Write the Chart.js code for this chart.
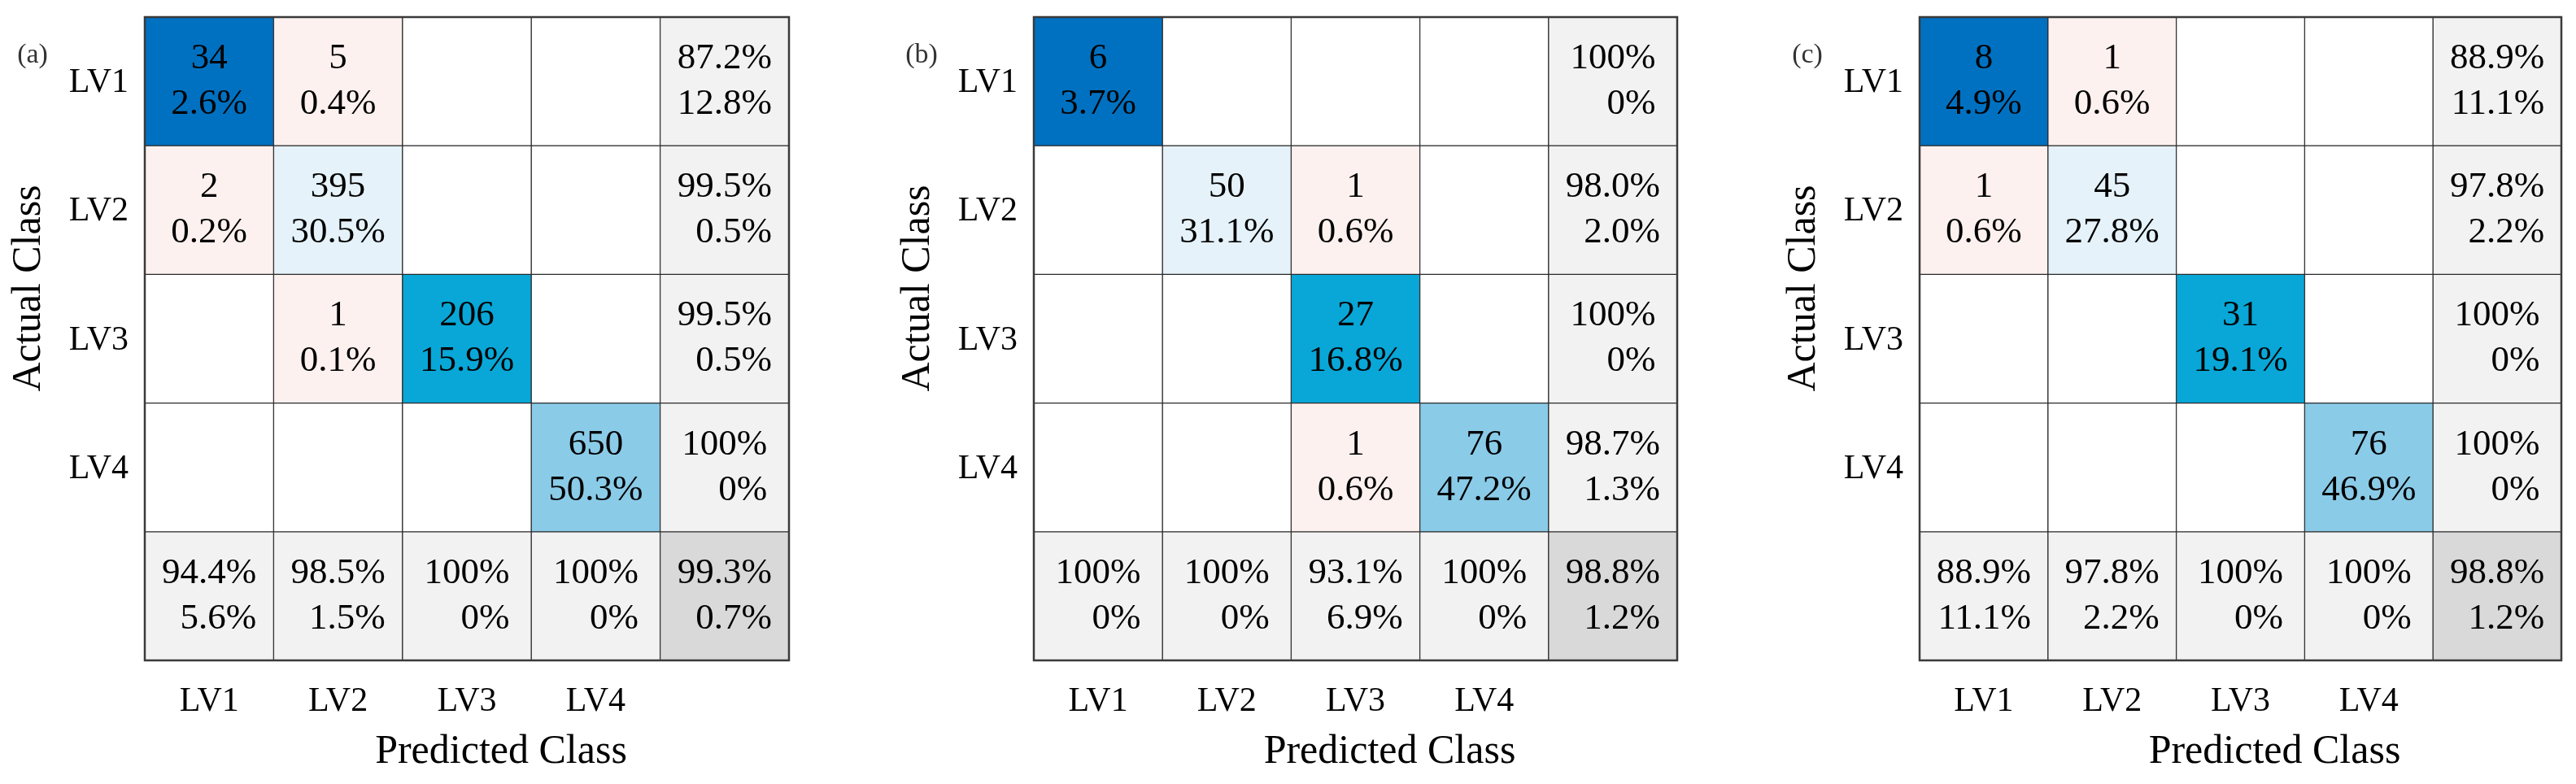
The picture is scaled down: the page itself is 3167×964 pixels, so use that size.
<!DOCTYPE html>
<html>
<head>
<meta charset="utf-8">
<script src="https://cdn.jsdelivr.net/npm/chart.js@4"></script>
<style>
  body { margin: 0; background: #fff; }
  #wrap { position: relative; width: 3167px; height: 964px; }
  #wrap canvas { position: absolute; left: 0; top: 0; }
</style>
</head>
<body>
<div id="wrap">
  <canvas id="cmA" width="3167" height="964"></canvas>
  <canvas id="cmB" width="3167" height="964"></canvas>
  <canvas id="cmC" width="3167" height="964"></canvas>
</div>
<script>
const classes = ["LV1", "LV2", "LV3", "LV4"];
const xTitle = "Predicted Class";
const yTitle = "Actual Class";

// (a)
const countsA = [[34, 5, 0, 0], [2, 395, 0, 0], [0, 1, 206, 0], [0, 0, 0, 650]];
const pctA = [[2.6, 0.4, 0, 0], [0.2, 30.5, 0, 0], [0, 0.1, 15.9, 0], [0, 0, 0, 50.3]];
const rowOkA = [87.2, 99.5, 99.5, 100];
const rowErrA = [12.8, 0.5, 0.5, 0];
const colOkA = [94.4, 98.5, 100, 100];
const colErrA = [5.6, 1.5, 0, 0];
const totalA = [99.3, 0.7];

// (b)
const countsB = [[6, 0, 0, 0], [0, 50, 1, 0], [0, 0, 27, 0], [0, 0, 1, 76]];
const pctB = [[3.7, 0, 0, 0], [0, 31.1, 0.6, 0], [0, 0, 16.8, 0], [0, 0, 0.6, 47.2]];
const rowOkB = [100, 98.0, 100, 98.7];
const rowErrB = [0, 2.0, 0, 1.3];
const colOkB = [100, 100, 93.1, 100];
const colErrB = [0, 0, 6.9, 0];
const totalB = [98.8, 1.2];

// (c)
const countsC = [[8, 1, 0, 0], [1, 45, 0, 0], [0, 0, 31, 0], [0, 0, 0, 76]];
const pctC = [[4.9, 0.6, 0, 0], [0.6, 27.8, 0, 0], [0, 0, 19.1, 0], [0, 0, 0, 46.9]];
const rowOkC = [88.9, 97.8, 100, 100];
const rowErrC = [11.1, 2.2, 0, 0];
const colOkC = [88.9, 97.8, 100, 100];
const colErrC = [11.1, 2.2, 0, 0];
const totalC = [98.8, 1.2];

const diagColors = ["#0071c1", "#e5f2f9", "#08a7d7", "#8acbe8"];
const offColor = "#fdf1ef";
const sumColor = "#f2f2f2";
const cornerColor = "#d9d9d9";
const serif = "'Liberation Serif', 'Times New Roman', serif";

function fmt(v) {
  if (v === 100 || v === 0) return v + "%";
  return v.toFixed(1) + "%";
}

function cellColor(counts, r, c) {
  if (r === 4 && c === 4) return cornerColor;
  if (r === 4 || c === 4) return sumColor;
  if (r === c) return diagColors[r];
  return counts[r][c] > 0 ? offColor : "#ffffff";
}

const textPlugin = {
  id: "cmText",
  afterDatasetsDraw(chart, args, opts) {
    const ctx = chart.ctx;
    const xs = chart.scales.x;
    const ys = chart.scales.y;
    const area = chart.chartArea;
    const p = opts.panel;

    ctx.save();
    ctx.strokeStyle = "#3a3a3a";
    ctx.lineWidth = 2.5;
    ctx.strokeRect(area.left, area.top, area.right - area.left, area.bottom - area.top);

    ctx.fillStyle = "#000";
    ctx.textBaseline = "middle";
    ctx.font = "45px " + serif;

    const drawBlock = (lines, cx, cy, right) => {
      if (!right) {
        ctx.textAlign = "center";
        ctx.fillText(lines[0], cx, cy - 28);
        ctx.fillText(lines[1], cx, cy + 28);
        return;
      }
      const w = Math.max(ctx.measureText(lines[0]).width, ctx.measureText(lines[1]).width);
      ctx.textAlign = "right";
      ctx.fillText(lines[0], cx + w / 2, cy - 28);
      ctx.fillText(lines[1], cx + w / 2, cy + 28);
    };

    for (let r = 0; r < 5; r++) {
      const cy = ys.getPixelForValue(r + 0.5);
      for (let c = 0; c < 5; c++) {
        const cx = xs.getPixelForValue(c);
        if (r < 4 && c < 4) {
          if (p.counts[r][c] > 0) drawBlock([String(p.counts[r][c]), fmt(p.pct[r][c])], cx, cy, false);
        } else if (r < 4) {
          drawBlock([fmt(p.rowOk[r]), fmt(p.rowErr[r])], cx, cy, true);
        } else if (c < 4) {
          drawBlock([fmt(p.colOk[c]), fmt(p.colErr[c])], cx, cy, true);
        } else {
          drawBlock([fmt(p.total[0]), fmt(p.total[1])], cx, cy, true);
        }
      }
    }

    // tick labels
    ctx.font = "42px " + serif;
    ctx.textAlign = "right";
    classes.forEach((name, i) => {
      ctx.fillText(name, area.left - 20, ys.getPixelForValue(i + 0.5) + 2);
    });
    ctx.textAlign = "center";
    classes.forEach((name, i) => {
      ctx.fillText(name, xs.getPixelForValue(i), area.bottom + 51);
    });

    // axis titles
    ctx.font = "50px " + serif;
    ctx.fillText(xTitle, (area.left + area.right) / 2 + 42, area.bottom + 113);
    ctx.save();
    ctx.translate(area.left - 142, (area.top + area.bottom) / 2 - 62);
    ctx.rotate(-Math.PI / 2);
    ctx.fillText(yTitle, 0, 0);
    ctx.restore();

    // panel tag
    ctx.font = "34px " + serif;
    ctx.fillStyle = "#333";
    ctx.fillText(p.tag, area.left - 138, area.top + 47);
    ctx.restore();
  },
};

function makePanel(id, tag, left, right, counts, pct, rowOk, rowErr, colOk, colErr, total) {
  const datasets = [];
  for (let r = 0; r < 5; r++) {
    const colors = [];
    const data = [];
    for (let c = 0; c < 5; c++) {
      data.push([r, r + 1]);
      colors.push(cellColor(counts, r, c));
    }
    datasets.push({
      data: data,
      backgroundColor: colors,
      borderColor: "#2a2a2a",
      borderWidth: 1,
      borderSkipped: false,
      grouped: false,
      barPercentage: 1,
      categoryPercentage: 1,
    });
  }

  new Chart(document.getElementById(id), {
    type: "bar",
    data: { labels: [...classes, ""], datasets: datasets },
    options: {
      responsive: false,
      animation: false,
      layout: { padding: { left: left, right: 3167 - right, top: 21, bottom: 964 - 812 } },
      plugins: {
        legend: { display: false },
        tooltip: { enabled: false },
        cmText: { panel: { tag, counts, pct, rowOk, rowErr, colOk, colErr, total } },
      },
      scales: {
        x: { display: false },
        y: { display: false, min: 0, max: 5, reverse: true },
      },
    },
    plugins: [textPlugin],
  });
}

makePanel("cmA", "(a)", 178, 970, countsA, pctA, rowOkA, rowErrA, colOkA, colErrA, totalA);
makePanel("cmB", "(b)", 1271, 2062, countsB, pctB, rowOkB, rowErrB, colOkB, colErrB, totalB);
makePanel("cmC", "(c)", 2360, 3149, countsC, pctC, rowOkC, rowErrC, colOkC, colErrC, totalC);
</script>
</body>
</html>
